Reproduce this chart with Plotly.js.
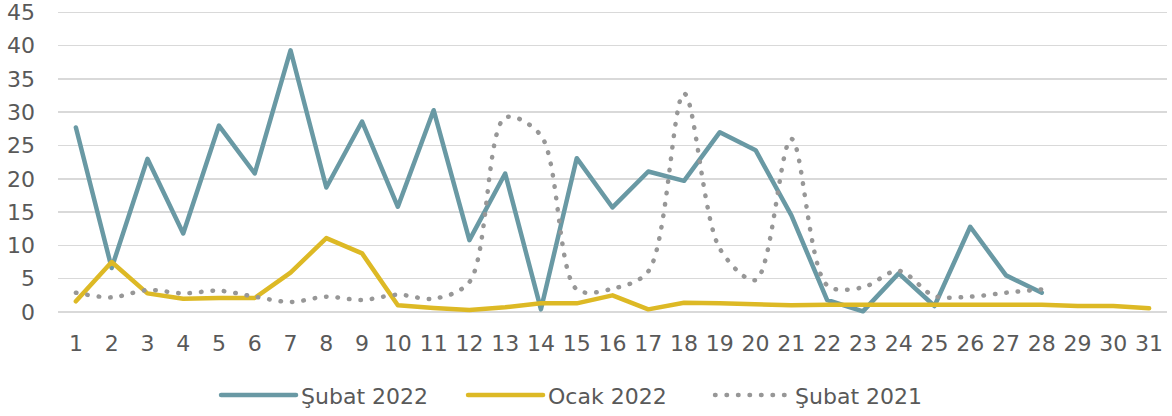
<!DOCTYPE html>
<html>
<head>
<meta charset="utf-8">
<script src="https://cdn.plot.ly/plotly-3.0.1.min.js"></script>
<style>
html,body{margin:0;padding:0;background:#fff;}
#chart{width:1172px;height:416px;}
path.js-line, .legendlines path{stroke-linecap:round;stroke-linejoin:round;}
</style>
</head>
<body>
<div id="chart"></div>
<script>
const days = [1,2,3,4,5,6,7,8,9,10,11,12,13,14,15,16,17,18,19,20,21,22,23,24,25,26,27,28,29,30,31];
const seriesNames = ["Şubat 2022", "Ocak 2022", "Şubat 2021"];
const subat2022 = [27.7,6.6,23,11.8,28,20.8,39.3,18.7,28.6,15.8,30.3,10.8,20.8,0.4,23.1,15.7,21.1,19.7,27,24.3,14.5,1.8,0.1,5.8,0.9,12.8,5.5,2.9];
const ocak2022 = [1.6,7.5,2.8,2,2.1,2.1,5.9,11.1,8.8,1,0.6,0.3,0.7,1.3,1.3,2.5,0.4,1.4,1.3,1.2,1,1.1,1.1,1.1,1.1,1.1,1.1,1.1,0.9,0.9,0.55];
const subat2021 = [2.9,2.2,3.3,2.8,3.2,2.3,1.5,2.3,1.8,2.6,2,4.5,29.2,26.5,3.4,3.5,6.1,32.8,9.5,4.8,26,4,3.7,6.2,2.4,2.3,2.9,3.4];
const yTicks = [0,5,10,15,20,25,30,35,40,45];

const font = "'DejaVu Sans', sans-serif";
const traces = [
  {x: days.slice(0, subat2022.length), y: subat2022, name: seriesNames[0], type: 'scatter', mode: 'lines',
   line: {color: '#6999A4', width: 4.5}},
  {x: days.slice(0, ocak2022.length), y: ocak2022, name: seriesNames[1], type: 'scatter', mode: 'lines',
   line: {color: '#DDB925', width: 4.5}},
  {x: days.slice(0, subat2021.length), y: subat2021, name: seriesNames[2], type: 'scatter', mode: 'lines',
   line: {color: '#979797', width: 4.5, dash: '0.5px,11px', shape: 'spline', smoothing: 0.9}}
];
const layout = {
  width: 1172, height: 416,
  margin: {l: 58, r: 5, t: 9, b: 100},
  paper_bgcolor: '#fff', plot_bgcolor: '#fff',
  font: {family: font, size: 22, color: '#595959'},
  showlegend: true,
  legend: {orientation: 'h', x: 0.1425, xanchor: 'left', yref: 'container', y: 0.05, yanchor: 'middle',
           font: {family: font, size: 22, color: '#595959'}, entrywidth: 157, entrywidthmode: 'pixels',
           itemwidth: 75},
  xaxis: {range: [0.5, 31.5], tickvals: days, ticktext: days.map(String), showgrid: false, zeroline: false,
          showline: false, ticks: '', ticklabelstandoff: 12, fixedrange: true, automargin: false},
  yaxis: {range: [-0.6, 45.5], tickvals: yTicks, ticktext: yTicks.map(String), showgrid: true,
          gridcolor: '#D9D9D9', gridwidth: 1.5, zeroline: false, showline: false, ticks: '',
          ticklabelstandoff: 22, ticklabeloverflow: 'allow', fixedrange: true, automargin: false}
};
Plotly.newPlot('chart', traces, layout, {staticPlot: true});
</script>
</body>
</html>
